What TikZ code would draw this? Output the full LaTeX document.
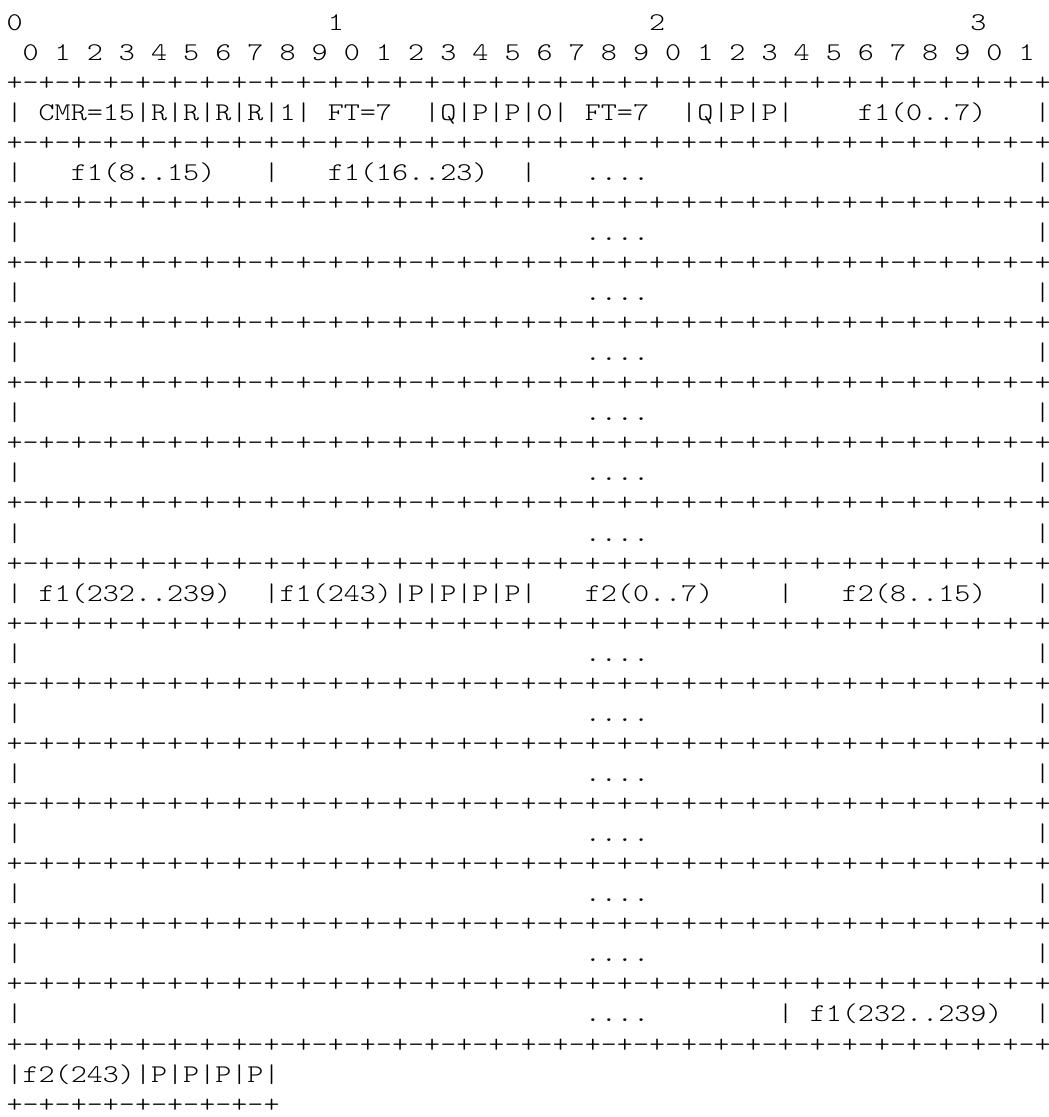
\documentclass[tikz,border=0pt]{standalone}
\usepackage{fontspec}
\newfontfamily\asciifont{lmmonolt10-regular.otf}[FakeStretch=1.2]
\tikzset{txt/.style={font=\asciifont\fontsize{25.5}{30}\selectfont, anchor=base west, inner sep=0pt, outer sep=0pt, text=black}}
% name, line, column, text
\newcommand\asc[4]{\node[txt] (#1) at ({6.5+#3*16.065},{-(30+(#2-1)*30.06)}) {#4};}
\def\asciiq{+-+-+-+-+-+-+-+-}
\begin{document}
\begin{tikzpicture}[x=1pt,y=1pt]
\path[use as bounding box] (0,0) rectangle (1049,-1117);
% ruler
\asc{t0}{1}{0}{0}
\asc{t1}{1}{20}{1}
\asc{t2}{1}{40}{2}
\asc{t3}{1}{60}{3}
\foreach \k in {0,...,31}{\pgfmathtruncatemacro\dd{mod(\k,10)}\pgfmathtruncatemacro\cc{2*\k+1}\asc{r\k}{2}{\cc}{\dd}}
% borders
\foreach \L in {3,5,...,35}{\asc{b\L}{\L}{0}{\asciiq\asciiq\asciiq\asciiq+}}
\asc{b37}{37}{0}{\asciiq+}
% row 1
\asc{a1}{4}{0}{|}
\asc{a2}{4}{2}{CMR=15}
\asc{a3}{4}{8}{|R|R|R|R|1|}
\asc{a4}{4}{20}{FT=7}
\asc{a5}{4}{26}{|Q|P|P|0|}
\asc{a6}{4}{36}{FT=7}
\asc{a7}{4}{42}{|Q|P|P|}
\asc{a8}{4}{53}{f1(0..7)}
\asc{a9}{4}{64}{|}
% row 2
\asc{c1}{6}{0}{|}
\asc{c2}{6}{4}{f1(8..15)}
\asc{c3}{6}{16}{|}
\asc{c4}{6}{20}{f1(16..23)}
\asc{c5}{6}{32}{|}
\asc{c6}{6}{36}{....}
\asc{c7}{6}{64}{|}
% dotted rows
\foreach \L in {8,10,...,18}{\asc{da\L}{\L}{0}{|}\asc{dd\L}{\L}{36}{....}\asc{dz\L}{\L}{64}{|}}
\foreach \L in {22,24,...,32}{\asc{da\L}{\L}{0}{|}\asc{dd\L}{\L}{36}{....}\asc{dz\L}{\L}{64}{|}}
% row with f1 end, f2 start
\asc{e1}{20}{0}{|}
\asc{e2}{20}{2}{f1(232..239)}
\asc{e3}{20}{16}{|f1(243)|P|P|P|P|}
\asc{e4}{20}{36}{f2(0..7)}
\asc{e5}{20}{48}{|}
\asc{e6}{20}{52}{f2(8..15)}
\asc{e7}{20}{64}{|}
% row 34
\asc{g1}{34}{0}{|}
\asc{g2}{34}{36}{....}
\asc{g3}{34}{48}{|}
\asc{g4}{34}{50}{f1(232..239)}
\asc{g5}{34}{64}{|}
% last row
\asc{h1}{36}{0}{|f2(243)|P|P|P|P|}
\end{tikzpicture}
\end{document}
